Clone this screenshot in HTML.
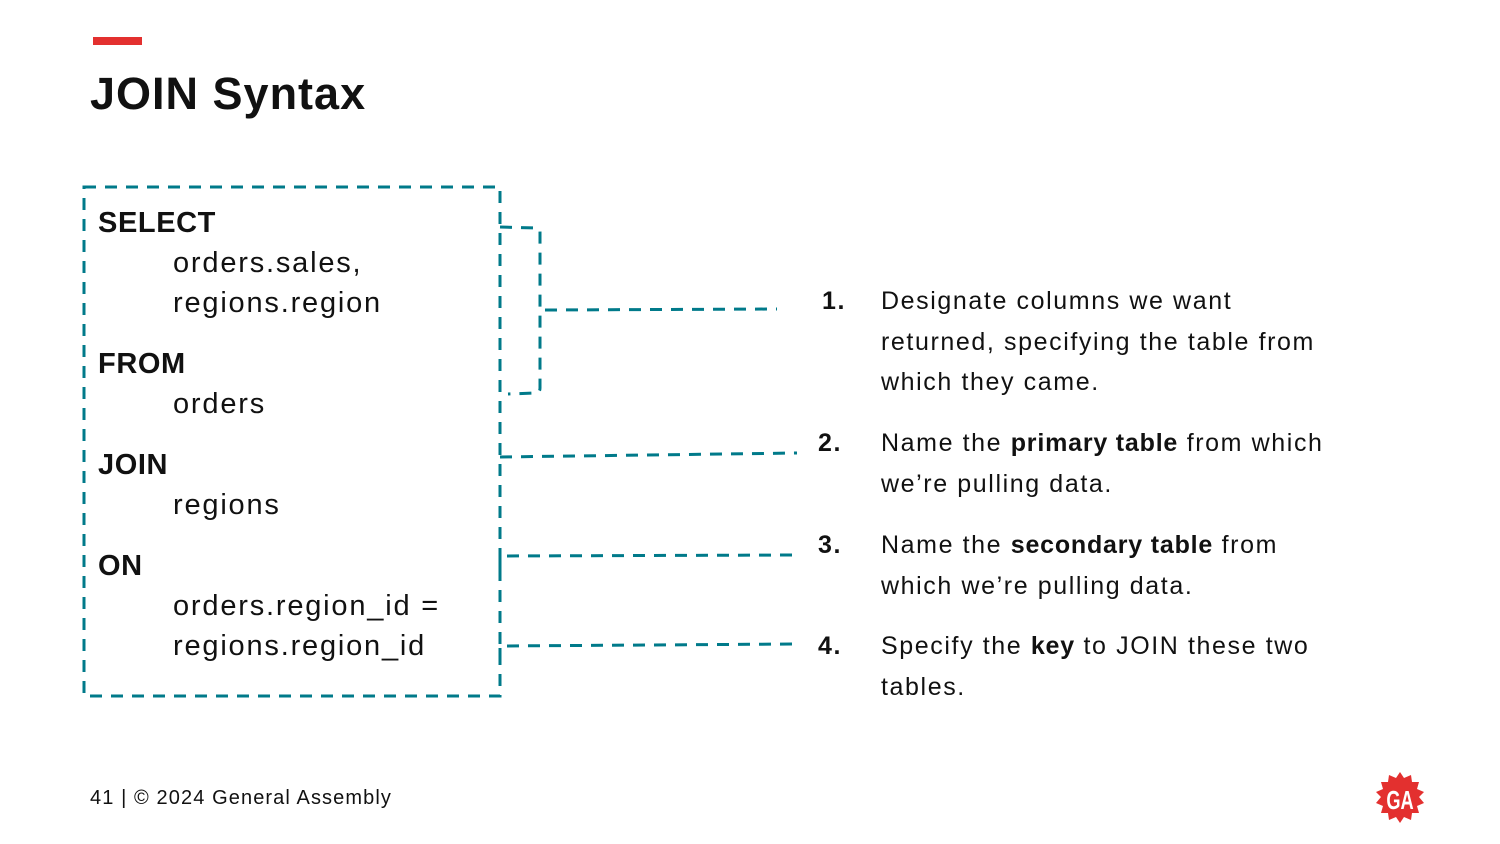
<!DOCTYPE html>
<html><head><style>
body{margin:0;width:1500px;height:844px;background:#fff;position:relative;overflow:hidden;font-family:"Liberation Sans",sans-serif;color:#111}
.t{position:absolute;white-space:nowrap;line-height:1}
.c{font-size:29px;letter-spacing:1.8px}
.b{font-weight:bold}
.c.b{letter-spacing:0.6px}
.r{font-size:25px;letter-spacing:1.6px}
.r b{letter-spacing:0.8px}
</style></head><body>
<div style="position:absolute;left:93px;top:37px;width:49px;height:8px;background:#e3302f"></div>
<div class="t b" style="left:90px;top:71px;font-size:45px;letter-spacing:1px">JOIN Syntax</div>
<svg width="1500" height="844" style="position:absolute;left:0;top:0">
<g fill="none" stroke="#007a8a" stroke-width="3" stroke-dasharray="12 9">
<rect x="84" y="187" width="416" height="509"/>
<path d="M500 227 L536 228 Q540 228 540 232 L540 388 Q540 393 535 393 L508 394"/>
<path d="M545 310 L777 309"/>
<path d="M500 457 L797 453"/>
<path d="M500 570 L500 556 L795 555"/>
<path d="M500 660 L500 646 L795 644"/>
</g>
<g>
<polygon points="1400,772 1404,778 1411,775 1412,782 1419,782 1417,789 1424,792 1419,797 1424,803 1417,806 1419,813 1412,813 1411,820 1404,817 1400,823 1396,817 1389,820 1388,813 1381,813 1383,806 1376,803 1381,797 1376,792 1383,789 1381,782 1388,782 1389,775 1396,778" fill="#e3302f"/>
<text x="1400" y="809" text-anchor="middle" font-family="Liberation Sans" font-weight="bold" font-size="26" fill="#fff" transform="translate(1400 0) scale(0.7 1) translate(-1400 0)">GA</text>
</g>
</svg>
<div class="t c b" style="left:98px;top:209px">SELECT</div>
<div class="t c" style="left:173px;top:249px">orders.sales,</div>
<div class="t c" style="left:173px;top:289px">regions.region</div>
<div class="t c b" style="left:98px;top:350px">FROM</div>
<div class="t c" style="left:173px;top:390px">orders</div>
<div class="t c b" style="left:98px;top:451px">JOIN</div>
<div class="t c" style="left:173px;top:491px">regions</div>
<div class="t c b" style="left:98px;top:552px">ON</div>
<div class="t c" style="left:173px;top:592px">orders.region_id =</div>
<div class="t c" style="left:173px;top:632px">regions.region_id</div>

<div class="t r b" style="left:822px;top:289px">1.</div>
<div class="t r" style="left:881px;line-height:40.5px;top:281px">Designate columns we want<br>returned, specifying the table from<br>which they came.</div>
<div class="t r b" style="left:818px;top:431px">2.</div>
<div class="t r" style="left:881px;top:423px;line-height:40.5px">Name the <b>primary table</b> from which<br>we’re pulling data.</div>
<div class="t r b" style="left:818px;top:533px">3.</div>
<div class="t r" style="left:881px;top:525px;line-height:40.5px">Name the <b>secondary table</b> from<br>which we’re pulling data.</div>
<div class="t r b" style="left:818px;top:634px">4.</div>
<div class="t r" style="left:881px;top:626px;line-height:40.5px">Specify the <b>key</b> to JOIN these two<br>tables.</div>

<div class="t" style="left:90px;top:788px;font-size:20px;letter-spacing:1.1px">41 | © 2024 General Assembly</div>
</body></html>
